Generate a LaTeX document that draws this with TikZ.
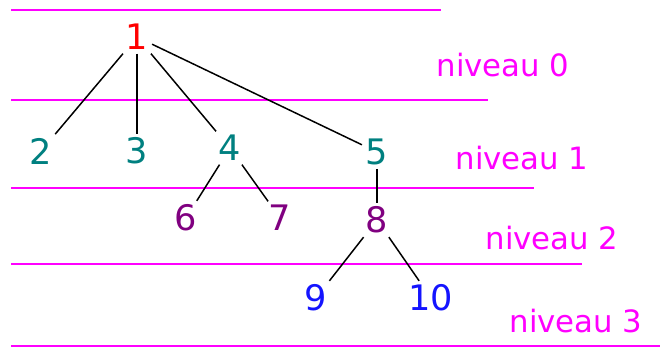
\documentclass[tikz,border=0pt]{standalone}
\usepackage{fontspec}
\setmainfont{DejaVu Sans}
\usepackage{xcolor}
\usetikzlibrary{positioning}

\definecolor{rose}{RGB}{255, 0, 255}
\definecolor{rouge}{RGB}{255, 0, 0}
\definecolor{sarcelle}{RGB}{0, 128, 128}
\definecolor{violet}{RGB}{128, 0, 128}
\definecolor{bleu}{RGB}{20, 20, 255}

\begin{document}
\begin{tikzpicture}[x=0.02cm, y=-0.02cm,
    sommet/.style={font=\fontsize{20}{22}\selectfont, inner sep=2pt},
    niveau/.style={font=\fontsize{17.5}{19}\selectfont, text=rose, inner sep=0pt},
    ligne/.style={rose, line width=1.1pt},
    arete/.style={black, line width=0.85pt}]
    \useasboundingbox (0,0) rectangle (660,347);

    % 1. Lignes de séparation des niveaux
    \draw[ligne] (11,10) -- (441,10);
    \draw[ligne] (11,100) -- (488,100);
    \draw[ligne] (11,188) -- (534,188);
    \draw[ligne] (11,264) -- (582,264);
    \draw[ligne] (11,346) -- (660,346);

    % 2. Sommets de l'arbre
    \node[sommet, text=rouge] (n1) at (137,37) {1};
    \node[sommet, text=sarcelle] (n2) at (41,151) {2};
    \node[sommet, text=sarcelle] (n3) at (137,151) {3};
    \node[sommet, text=sarcelle] (n4) at (230,148) {4};
    \node[sommet, text=sarcelle] (n5) at (377,152) {5};
    \node[sommet, text=violet] (n6) at (186,218) {6};
    \node[sommet, text=violet] (n7) at (280,218) {7};
    \node[sommet, text=violet] (n8) at (377,220) {8};
    \node[sommet, text=bleu] (n9) at (316,298) {9};
    \node[sommet, text=bleu] (n10) at (431,298) {10};

    % 3. Arêtes
    \draw[arete] (n1) -- (n2);
    \draw[arete] (n1) -- (n3);
    \draw[arete] (n1) -- (n4);
    \draw[arete] (n1) -- (n5);
    \draw[arete] (n4) -- (n6);
    \draw[arete] (n4) -- (n7);
    \draw[arete] (n5) -- (n8);
    \draw[arete] (n8) -- (n9);
    \draw[arete] (n8) -- (n10);

    % 4. Noms des niveaux
    \node[niveau] (niv0) at (503,65) {niveau 0};
    \node[niveau] (niv1) at (522,158) {niveau 1};
    \node[niveau] (niv2) at (552,238) {niveau 2};
    \node[niveau] (niv3) at (576,321) {niveau 3};
\end{tikzpicture}
\end{document}
